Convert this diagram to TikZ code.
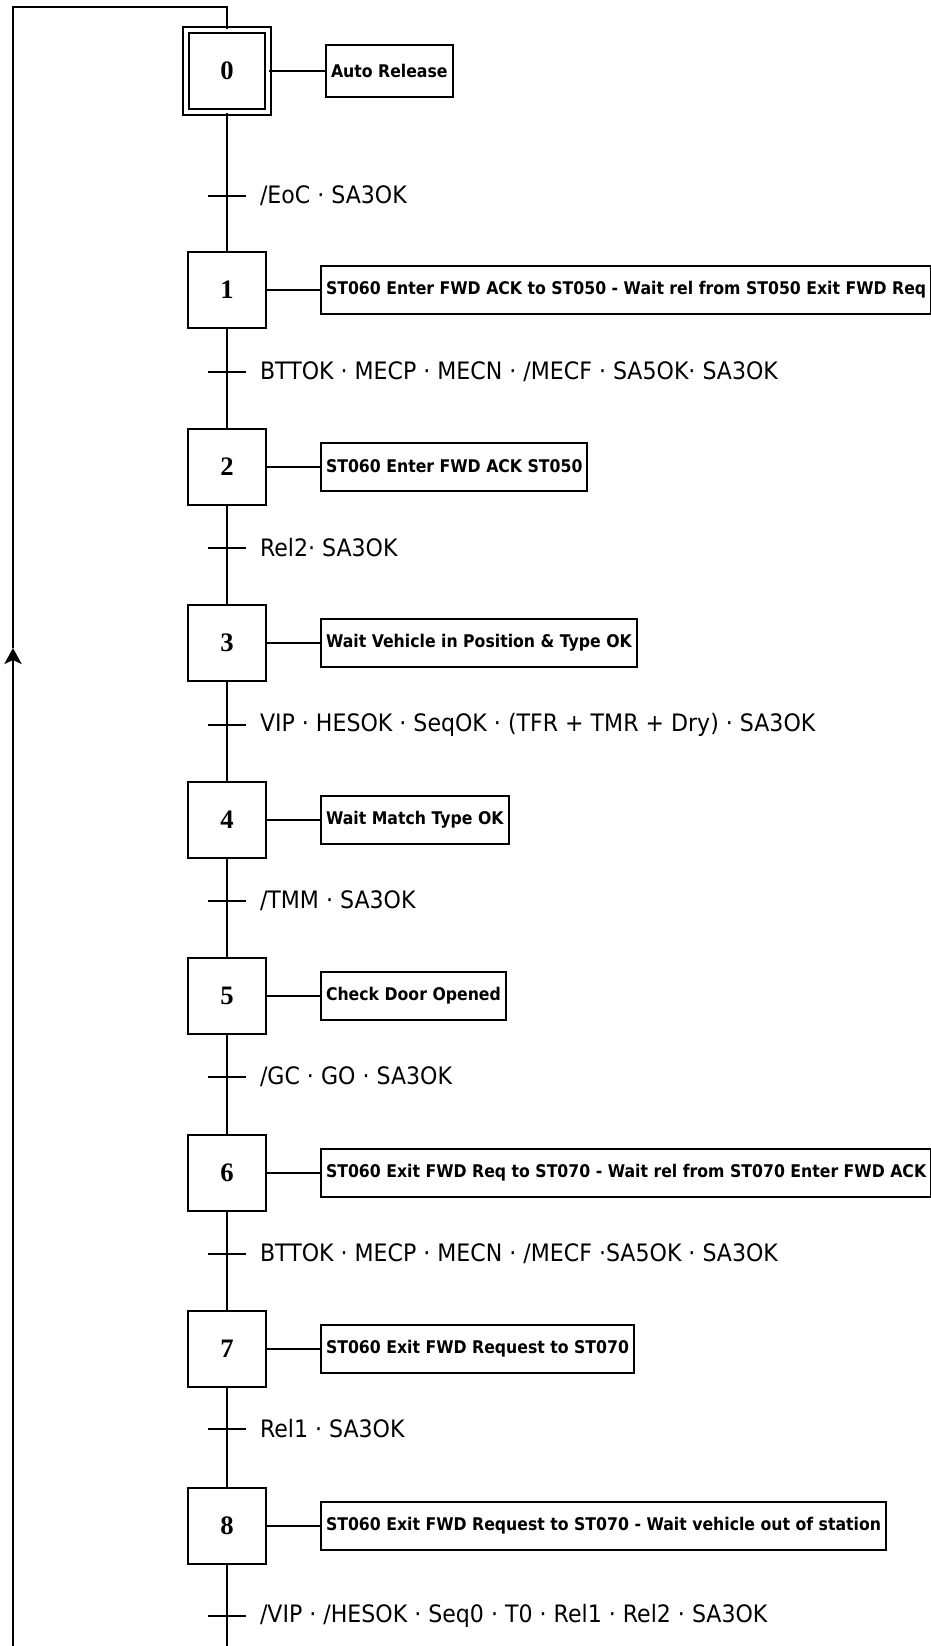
\documentclass[tikz,border=0pt]{standalone}
\usepackage{fontspec}
\setmainfont{DejaVu Sans}
\newfontfamily\trfont[FakeStretch=0.92]{DejaVu Sans}
\newfontfamily\acfont[FakeStretch=0.9]{DejaVu Sans}
\newfontfamily\stfont{Liberation Serif}
\usetikzlibrary{arrows.meta}
\begin{document}
\begin{tikzpicture}[x=0.75pt,y=-0.75pt,line width=1.5pt,
  stepbox/.style={draw, minimum width=58pt, minimum height=57pt, inner sep=0pt,
    font=\stfont\bfseries\fontsize{20}{20}\selectfont},
  initbox/.style={draw, double, double distance=2.5pt, line width=1.4pt, minimum size=61.5pt, inner sep=0pt,
    font=\stfont\bfseries\fontsize{20}{20}\selectfont},
  actbox/.style={draw, anchor=west, minimum height=36pt, inner xsep=3.75pt, inner ysep=0pt,
    font=\acfont\bfseries\fontsize{13.1}{15}\selectfont},
  trlabel/.style={anchor=west, inner sep=0pt, font=\trfont\fontsize{18}{21}\selectfont},
  trbar/.style={line width=1.5pt}]
\useasboundingbox (0,0) rectangle (931,1646);
% steps
\node[initbox] (s0) at (227,71) {0};
\node[stepbox] (s1) at (227,290) {1};
\node[stepbox] (s2) at (227,466.5) {2};
\node[stepbox] (s3) at (227,643) {3};
\node[stepbox] (s4) at (227,819.5) {4};
\node[stepbox] (s5) at (227,996) {5};
\node[stepbox] (s6) at (227,1172.5) {6};
\node[stepbox] (s7) at (227,1349) {7};
\node[stepbox] (s8) at (227,1525.5) {8};
% actions
\node[actbox, minimum height=39pt] (a0) at (325,71) {Auto Release};
\node[actbox] (a1) at (320,290) {ST060 Enter FWD ACK to ST050 - Wait rel from ST050 Exit FWD Req};
\node[actbox] (a2) at (320,466.5) {ST060 Enter FWD ACK ST050};
\node[actbox] (a3) at (320,643) {Wait Vehicle in Position \& Type OK};
\node[actbox] (a4) at (320,819.5) {Wait Match Type OK};
\node[actbox] (a5) at (320,996) {Check Door Opened};
\node[actbox] (a6) at (320,1172.5) {ST060 Exit FWD Req to ST070 - Wait rel from ST070 Enter FWD ACK};
\node[actbox] (a7) at (320,1349) {ST060 Exit FWD Request to ST070};
\node[actbox] (a8) at (320,1525.5) {ST060 Exit FWD Request to ST070 - Wait vehicle out of station};
\foreach \i in {0,...,8}{\draw (s\i.east) -- (a\i.west);}
% transitions
\foreach \i/\y in {0/196,1/372,2/548,3/724.5,4/901,5/1077,6/1253.5,7/1429,8/1616}{
  \coordinate (t\i) at (227,\y);
  \draw[trbar] ([xshift=-14.25pt]t\i) -- ([xshift=14.25pt]t\i);
}
\node[trlabel] (l0) at (259,196) {/EoC · SA3OK};
\node[trlabel] (l1) at (259,372) {BTTOK · MECP · MECN · /MECF · SA5OK· SA3OK};
\node[trlabel] (l2) at (259,548) {Rel2· SA3OK};
\node[trlabel] (l3) at (259,724.5) {VIP · HESOK · SeqOK · (TFR + TMR + Dry) · SA3OK};
\node[trlabel] (l4) at (259,901) {/TMM · SA3OK};
\node[trlabel] (l5) at (259,1077) {/GC · GO · SA3OK};
\node[trlabel] (l6) at (259,1253.5) {BTTOK · MECP · MECN · /MECF ·SA5OK · SA3OK};
\node[trlabel] (l7) at (259,1429) {Rel1 · SA3OK};
\node[trlabel] (l8) at (259,1616) {/VIP · /HESOK · Seq0 · T0 · Rel1 · Rel2 · SA3OK};
% main line
\draw (s0.south) -- (s1.north);
\draw (s1.south) -- (s2.north);
\draw (s2.south) -- (s3.north);
\draw (s3.south) -- (s4.north);
\draw (s4.south) -- (s5.north);
\draw (s5.south) -- (s6.north);
\draw (s6.south) -- (s7.north);
\draw (s7.south) -- (s8.north);
\coordinate (bc) at (227,1646);
\draw (s8.south) -- (bc);
% loop back
\coordinate (bl) at (13,1646);
\coordinate (arr) at (13,648);
\coordinate (tl) at (13,7);
\coordinate (tc) at (227,7);
\draw[-{Stealth[length=12pt,width=13pt,inset=3pt]}] (bl) -- (arr);
\draw (arr) -- (tl) -- (tc) -- (s0.north);
\end{tikzpicture}
\end{document}
